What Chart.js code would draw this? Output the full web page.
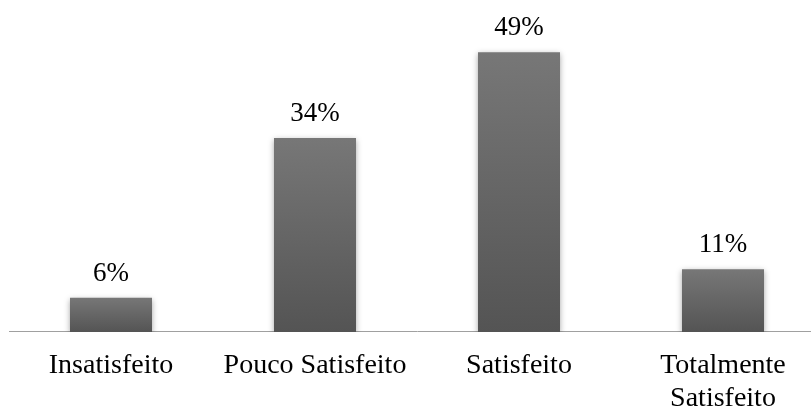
<!DOCTYPE html>
<html lang="pt">
<head>
<meta charset="utf-8">
<title>Satisfação</title>
<script src="https://cdn.jsdelivr.net/npm/chart.js@4/dist/chart.umd.min.js"></script>
<style>
  html, body { margin: 0; padding: 0; background: #fff; overflow: hidden; }
  #chart { position: absolute; left: 0; top: 0; }
</style>
</head>
<body>
<canvas id="chart" width="826" height="440"></canvas>
<script>
  // data
  const categories = ["Insatisfeito", "Pouco Satisfeito", "Satisfeito", ["Totalmente", "Satisfeito"]];
  const values = [6, 34, 49, 11];
  const labelsText = ["6%", "34%", "49%", "11%"];

  const FONT = '"Liberation Serif", "Times New Roman", serif';

  // each bar gets its own top-to-bottom gradient
  function barFill(ctx) {
    const chart = ctx.chart;
    const area = chart.chartArea;
    if (!area || ctx.type !== "data") return "#666";
    const top = chart.scales.y.getPixelForValue(values[ctx.dataIndex]);
    const g = chart.ctx.createLinearGradient(0, top, 0, area.bottom);
    g.addColorStop(0, "#777777");
    g.addColorStop(1, "#545454");
    return g;
  }

  const barShadow = {
    id: "barShadow",
    beforeDatasetDraw(chart) {
      const c = chart.ctx;
      c.save();
      c.shadowColor = "rgba(0,0,0,0.35)";
      c.shadowBlur = 6;
      c.shadowOffsetX = 0;
      c.shadowOffsetY = 2;
    },
    afterDatasetDraw(chart) {
      chart.ctx.restore();
    }
  };

  const valueLabels = {
    id: "valueLabels",
    afterDatasetsDraw(chart) {
      const c = chart.ctx;
      const meta = chart.getDatasetMeta(0);
      c.save();
      c.font = "27px " + FONT;
      c.fillStyle = "#000";
      c.textAlign = "center";
      c.textBaseline = "alphabetic";
      meta.data.forEach((bar, i) => {
        c.fillText(labelsText[i], bar.x, bar.y - 17);
      });
      c.restore();
    }
  };

  new Chart(document.getElementById("chart"), {
    type: "bar",
    data: {
      labels: categories,
      datasets: [{
        data: values,
        backgroundColor: barFill,
        borderWidth: 0,
        barPercentage: 1,
        categoryPercentage: 0.402
      }]
    },
    options: {
      responsive: false,
      animation: false,
      events: [],
      layout: { padding: { left: 9, right: 1, top: 18, bottom: 7 } },
      plugins: { legend: { display: false }, tooltip: { enabled: false } },
      scales: {
        x: {
          grid: { display: false, drawTicks: false },
          border: { display: true, color: "#a0a0a0", width: 1 },
          ticks: {
            color: "#000",
            font: { family: FONT, size: 28, lineHeight: 1.179 },
            padding: 17.5,
            maxRotation: 0,
            autoSkip: false
          }
        },
        y: { display: false, min: 0, max: 55 }
      }
    },
    plugins: [barShadow, valueLabels]
  });
</script>
</body>
</html>
